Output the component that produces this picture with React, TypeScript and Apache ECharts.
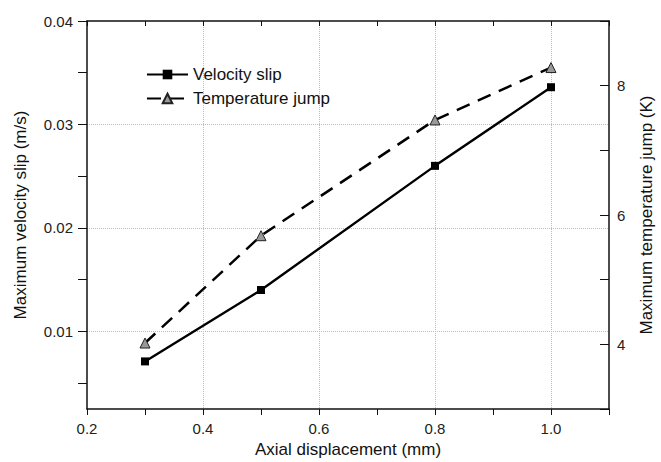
import React, { useEffect, useRef } from "react";
import * as echarts from "echarts";

const xValues = [0.3, 0.5, 0.8, 1.0];
const velocitySlip = [0.0071, 0.014, 0.026, 0.0336];
const temperatureJump = [4.02, 5.68, 7.47, 8.28];

const xTickLabels = ["0.2", "0.3", "0.4", "0.5", "0.6", "0.7", "0.8", "0.9", "1.0", "1.1"];
const leftTickLabels = [
  "0.0025", "0.005", "0.0075", "0.01", "0.0125", "0.015", "0.0175", "0.02",
  "0.0225", "0.025", "0.0275", "0.03", "0.0325", "0.035", "0.0375", "0.04",
];
const rightTickLabels = ["4", "6", "8"];

const FONT = "Liberation Sans, Arial, sans-serif";
const AXIS_LINE = { show: true, lineStyle: { color: "#111", width: 1.5 } };
const TICK_STYLE = { color: "#111", width: 1 };
const GRID_LINE = { show: true, lineStyle: { color: "#bbb", type: "dotted" as const, width: 1 } };

export default function App() {
  const ref = useRef<HTMLDivElement>(null);
  useEffect(() => {
    if (!ref.current) return;
    const chart = echarts.init(ref.current, null, { renderer: "svg" });
    chart.setOption({
      animation: false,
      backgroundColor: "#fff",
      textStyle: { fontFamily: FONT },
      grid: { left: 87, right: 52, top: 21, bottom: 53, containLabel: false, outerBoundsMode: "none" },
      legend: {
        data: ["Velocity slip", "Temperature jump"],
        orient: "vertical",
        left: 141,
        top: 61,
        itemWidth: 41,
        itemHeight: 12,
        itemGap: 7,
        textStyle: { fontSize: 17, color: "#111", fontFamily: FONT },
      },
      xAxis: [
        { type: "value", min: 0.2, max: 1.1, show: false },
        {
          type: "category",
          position: "bottom",
          data: xTickLabels,
          boundaryGap: false,
          axisLine: AXIS_LINE,
          axisTick: { show: true, inside: false, length: 6, interval: 0, lineStyle: TICK_STYLE },
          axisLabel: {
            interval: (i: number) => i % 2 === 0 && i < 9,
            fontSize: 15,
            color: "#222",
            margin: 12,
            fontFamily: FONT,
          },
          splitLine: { ...GRID_LINE, interval: (i: number) => i % 2 === 0 && i > 0 && i < 9 },
          name: "Axial displacement (mm)",
          nameLocation: "middle",
          nameGap: 32,
          nameTextStyle: { fontSize: 17, color: "#111", fontFamily: FONT },
        },
        {
          type: "category",
          position: "top",
          data: xTickLabels,
          boundaryGap: false,
          axisLine: AXIS_LINE,
          axisTick: { show: true, inside: true, length: 5, interval: 0, lineStyle: TICK_STYLE },
          axisLabel: { show: false },
          splitLine: { show: false },
        },
      ],
      yAxis: [
        { type: "value", min: 0.0025, max: 0.04, show: false },
        {
          type: "value",
          position: "right",
          min: 3,
          max: 9,
          interval: 1,
          axisLine: AXIS_LINE,
          axisTick: { show: true, inside: true, length: 9, lineStyle: TICK_STYLE },
          axisLabel: {
            formatter: (v: number) => (rightTickLabels.includes(String(v)) ? String(v) : ""),
            fontSize: 15,
            color: "#222",
            margin: 8,
            fontFamily: FONT,
          },
          splitLine: { show: false },
          name: "Maximum temperature jump (K)",
          nameLocation: "middle",
          nameRotate: 90,
          nameGap: 29,
          nameTextStyle: { fontSize: 17, color: "#111", fontFamily: FONT },
        },
        {
          type: "category",
          position: "left",
          data: leftTickLabels,
          boundaryGap: false,
          axisLine: AXIS_LINE,
          axisTick: {
            show: true,
            inside: false,
            length: 9,
            interval: (i: number) => i % 2 === 1,
            lineStyle: TICK_STYLE,
          },
          axisLabel: {
            interval: (i: number) => i % 4 === 3,
            fontSize: 15,
            color: "#222",
            margin: 14,
            fontFamily: FONT,
          },
          splitLine: { ...GRID_LINE, interval: (i: number) => i % 4 === 3 && i < 15 },
          name: "Maximum velocity slip (m/s)",
          nameLocation: "middle",
          nameRotate: 90,
          nameGap: 58,
          nameTextStyle: { fontSize: 17, color: "#111", fontFamily: FONT },
        },
      ],
      series: [
        {
          name: "Velocity slip",
          type: "line",
          xAxisIndex: 0,
          yAxisIndex: 0,
          data: xValues.map((x, i) => [x, velocitySlip[i]]),
          symbol: "rect",
          symbolSize: 8,
          lineStyle: { color: "#000", width: 2.4 },
          itemStyle: { color: "#000" },
        },
        {
          name: "Temperature jump",
          type: "line",
          xAxisIndex: 0,
          yAxisIndex: 1,
          data: xValues.map((x, i) => [x, temperatureJump[i]]),
          symbol: "triangle",
          symbolSize: 10,
          lineStyle: { color: "#000", width: 2.5, type: [14, 9] },
          itemStyle: { color: "#999", borderColor: "#222", borderWidth: 1 },
        },
      ],
    });
    return () => chart.dispose();
  }, []);
  return <div ref={ref} style={{ width: 661, height: 462, position: "absolute", left: 0, top: 0 }} />;
}
